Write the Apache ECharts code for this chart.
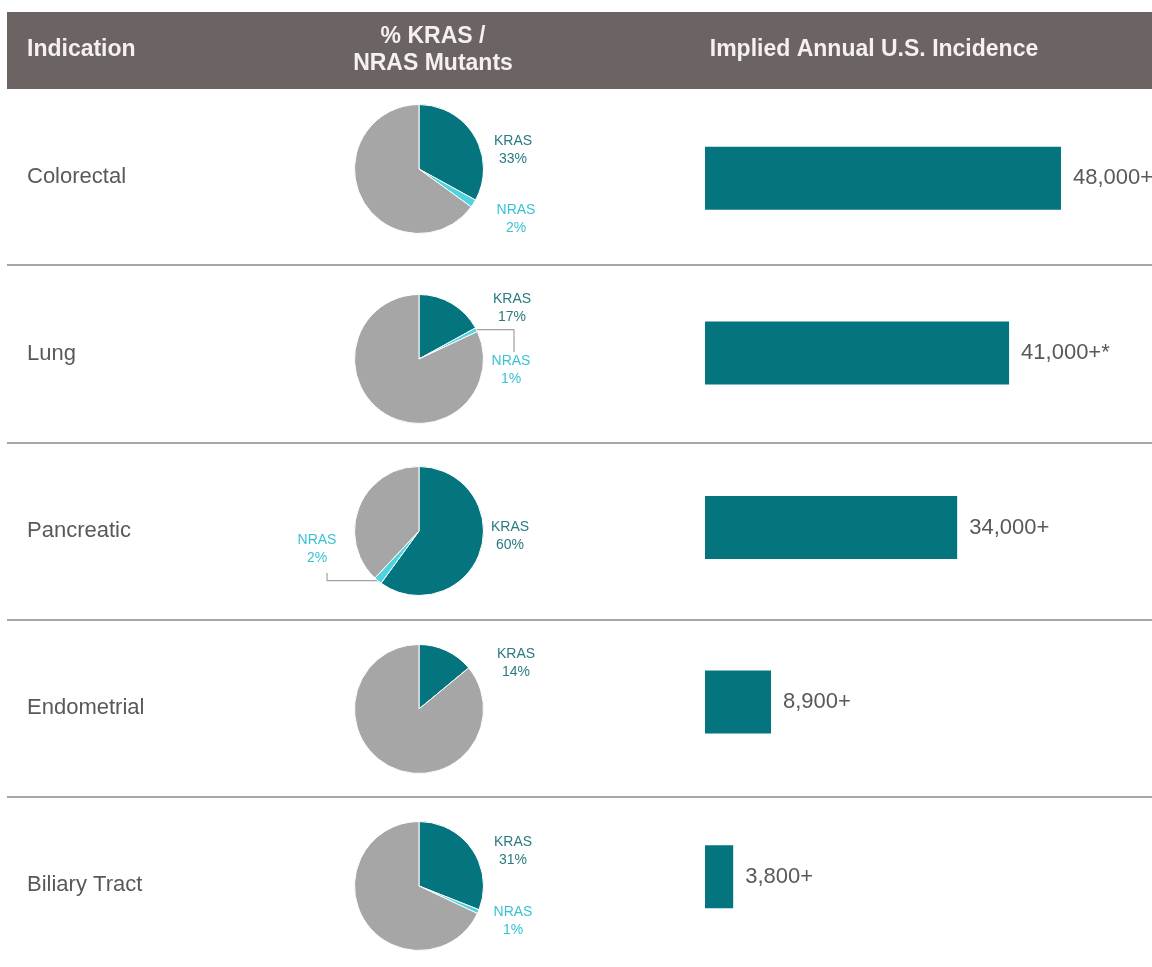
<!DOCTYPE html>
<html>
<head>
<meta charset="utf-8">
<script src="https://cdn.jsdelivr.net/npm/echarts@6/dist/echarts.min.js"></script>
<style>
  html, body { margin: 0; padding: 0; background: #fff; }
  #main { width: 1152px; height: 967px; }
</style>
</head>
<body>
<div id="main"></div>
<script>
// chart data
const indications = ['Colorectal', 'Lung', 'Pancreatic', 'Endometrial', 'Biliary Tract']
const krasPct = [33, 17, 60, 14, 31]
const nrasPct = [2, 1, 2, null, 1]
const incidence = [48000, 41000, 34000, 8900, 3800]
const incidenceLabels = ['48,000+', '41,000+*', '34,000+', '8,900+', '3,800+']

// layout of the pies and their labels (pixels)
const pieX = 419
const pieY = [169, 359, 531, 709, 886]
// label centre offsets from the pie centre: [kras, nras]
const labelOffset = [
  [[94, -19], [97, 50]],
  [[93, -51], [92, 11]],
  [[91, 5], [-102, 18]],
  [[97, -46], null],
  [[94, -35], [94, 35]]
]
// rows whose NRAS label has an elbow leader line: [line x, line end y] offsets
const leader = { 1: [95, -7], 2: [-92, 42] }

const FONT = "'Liberation Sans', Arial, sans-serif"
const TEAL = '#04757e'
const CYAN = '#4fd3de'
const GREY = '#a6a6a6'
const TEXT = '#595959'

let myChart = echarts.init(document.getElementById('main'))

let pies = indications.map((name, i) => {
  let data = [
    { name: 'KRAS', value: krasPct[i], itemStyle: { color: TEAL }, label: { color: '#2a7b82' } }
  ]
  if (nrasPct[i] != null) {
    data.push({
      name: 'NRAS',
      value: nrasPct[i],
      itemStyle: { color: CYAN },
      label: { color: '#38c3d2' },
      labelLine: { show: leader[i] != null }
    })
  }
  data.push({
    name: 'Other',
    value: 100 - krasPct[i] - (nrasPct[i] || 0),
    itemStyle: { color: GREY },
    label: { show: false },
    labelLine: { show: false }
  })
  return {
    type: 'pie',
    name: name,
    center: [pieX, pieY[i]],
    radius: 64.5,
    startAngle: 90,
    clockwise: true,
    avoidLabelOverlap: false,
    itemStyle: { borderColor: '#fff', borderWidth: 1 },
    label: {
      show: true,
      position: 'outside',
      formatter: '{b}\n{c}%',
      fontFamily: FONT,
      fontSize: 14,
      lineHeight: 18,
      align: 'center'
    },
    labelLine: { show: false, lineStyle: { color: '#8c8c8c', width: 1 } },
    labelLayout: function (params) {
      let k = params.dataIndex
      let off = labelOffset[i][k]
      if (!off) return {}
      let res = {
        x: pieX + off[0],
        y: pieY[i] + off[1],
        align: 'center',
        verticalAlign: 'middle'
      }
      if (k === 1 && leader[i] && params.labelLinePoints) {
        let p0 = params.labelLinePoints[0]
        let lx = pieX + leader[i][0]
        let ly = pieY[i] + leader[i][1]
        res.labelLinePoints = [[p0[0], p0[1]], [lx, p0[1]], [lx, ly]]
      }
      return res
    },
    emphasis: { disabled: true },
    data: data
  }
})

let option = {
  animation: false,
  textStyle: { fontFamily: FONT },
  graphic: [
    { type: 'rect', shape: { x: 7, y: 12, width: 1145, height: 77 }, style: { fill: '#6b6462' }, z: 10 },
    { type: 'text', x: 27, y: 50, z: 11, style: { text: 'Indication', fill: '#f4f1ef', font: 'bold 23px ' + FONT, verticalAlign: 'middle' } },
    { type: 'text', x: 433, y: 50, z: 11, style: { text: '% KRAS /\nNRAS Mutants', fill: '#f4f1ef', font: 'bold 23px ' + FONT, lineHeight: 27, align: 'center', verticalAlign: 'middle' } },
    { type: 'text', x: 874, y: 50, z: 11, style: { text: 'Implied Annual U.S. Incidence', fill: '#f4f1ef', font: 'bold 23px ' + FONT, align: 'center', verticalAlign: 'middle' } }
  ],
  grid: [
    { left: 7, right: 0, top: 88, height: 886, outerBoundsMode: 'none' },
    { left: 705, width: 445, top: 91, height: 873, outerBoundsMode: 'none' }
  ],
  xAxis: [
    { gridIndex: 0, type: 'value', min: 0, max: 1, show: false },
    { gridIndex: 1, type: 'value', min: 0, max: 60000, show: false }
  ],
  yAxis: [
    {
      gridIndex: 0,
      type: 'category',
      inverse: true,
      data: indications,
      axisLine: { show: false },
      axisTick: { show: false },
      axisLabel: { inside: true, margin: 20, fontSize: 22, color: TEXT, fontFamily: FONT, padding: [6, 0, 0, 0] },
      splitLine: { show: true, lineStyle: { color: GREY, width: 2 } }
    },
    { gridIndex: 1, type: 'category', inverse: true, data: indications, show: false }
  ],
  series: [
    {
      type: 'bar',
      xAxisIndex: 1,
      yAxisIndex: 1,
      barWidth: 63,
      itemStyle: { color: TEAL },
      label: {
        show: true,
        position: 'right',
        distance: 12,
        fontSize: 22,
        color: TEXT,
        fontFamily: FONT,
        padding: [4, 0, 0, 0],
        formatter: p => incidenceLabels[p.dataIndex]
      },
      emphasis: { disabled: true },
      data: incidence
    }
  ].concat(pies)
}

myChart.setOption(option)
</script>
</body>
</html>
